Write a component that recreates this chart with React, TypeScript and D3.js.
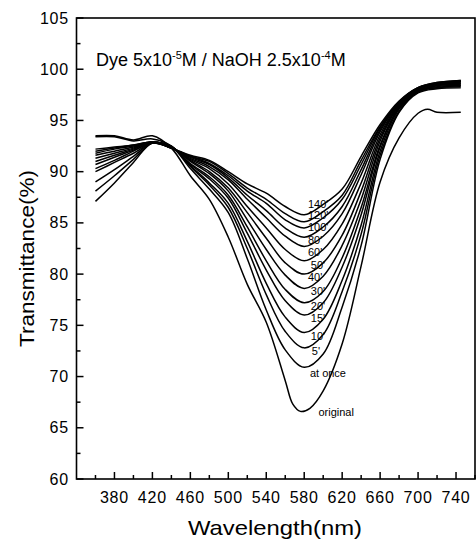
import React from 'react';
import * as d3 from 'd3';

const wavelengths = [360, 380, 400, 420, 440, 460, 480, 500, 520, 540, 560, 580, 600, 620, 640, 660, 680, 700, 720, 745];
const originalWavelengths = [360, 380, 400, 420, 440, 460, 480, 500, 520, 540, 560, 568, 576, 586, 600, 620, 640, 660, 680, 700, 710, 720, 745];

const original = [93.5, 93.5, 93.1, 93.5, 92.3, 89.6, 87.3, 83.6, 79.0, 75.3, 69.6, 67.3, 66.6, 66.9, 68.6, 73.2, 80.8, 89.0, 93.3, 95.7, 96.1, 95.8, 95.8];
const atOnce = [93.4, 93.4, 93.0, 93.2, 92.5, 90.3, 88.3, 86.0, 81.5, 76.5, 72.6, 70.9, 72.2, 76.8, 82.8, 91.2, 95.8, 97.7, 98.1, 98.2];
const min5 = [92.2, 92.4, 92.6, 92.9, 92.5, 90.5, 88.7, 86.5, 82.5, 78.0, 74.4, 72.8, 74.1, 78.3, 83.9, 91.6, 95.9, 97.8, 98.2, 98.3];
const min10 = [92.0, 92.3, 92.6, 92.9, 92.5, 90.6, 88.9, 86.9, 83.2, 79.1, 75.8, 74.3, 75.6, 79.4, 84.8, 92.0, 96.1, 97.8, 98.2, 98.4];
const min15 = [91.8, 92.2, 92.5, 92.9, 92.4, 90.7, 89.3, 87.4, 84.0, 80.4, 77.4, 76.0, 77.2, 80.7, 85.8, 92.4, 96.2, 97.9, 98.3, 98.4];
const min20 = [91.6, 92.0, 92.4, 92.9, 92.4, 90.8, 89.5, 87.7, 84.6, 81.3, 78.5, 77.2, 78.3, 81.6, 86.5, 92.6, 96.3, 97.9, 98.4, 98.5];
const min30 = [91.3, 91.8, 92.3, 92.9, 92.4, 91.0, 89.8, 88.1, 85.3, 82.4, 79.9, 78.6, 79.8, 82.8, 87.3, 93.0, 96.4, 97.9, 98.4, 98.6];
const min40 = [91.0, 91.6, 92.2, 92.9, 92.4, 91.1, 90.0, 88.4, 86.0, 83.5, 81.1, 80.0, 81.1, 83.8, 88.1, 93.3, 96.5, 98.0, 98.5, 98.6];
const min50 = [90.7, 91.4, 92.1, 92.8, 92.4, 91.2, 90.3, 88.8, 86.6, 84.5, 82.4, 81.3, 82.4, 84.9, 88.9, 93.6, 96.6, 98.1, 98.5, 98.7];
const min60 = [90.3, 91.1, 92.0, 92.8, 92.3, 91.3, 90.5, 89.2, 87.3, 85.5, 83.7, 82.7, 83.7, 85.9, 89.7, 93.9, 96.7, 98.1, 98.6, 98.8];
const min80 = [90.0, 90.9, 91.8, 92.8, 92.3, 91.4, 90.7, 89.4, 87.7, 86.2, 84.5, 83.6, 84.6, 86.6, 90.2, 94.1, 96.7, 98.1, 98.6, 98.8];
const min100 = [89.0, 90.2, 91.5, 92.8, 92.3, 91.5, 90.8, 89.6, 88.1, 86.9, 85.3, 84.5, 85.5, 87.3, 90.7, 94.3, 96.8, 98.2, 98.6, 98.8];
const min120 = [88.1, 89.6, 91.2, 92.8, 92.3, 91.5, 91.0, 89.8, 88.4, 87.3, 85.9, 85.1, 86.1, 87.7, 91.1, 94.4, 96.8, 98.2, 98.7, 98.9];
const min140 = [87.1, 88.9, 90.9, 92.8, 92.3, 91.6, 91.1, 90.0, 88.8, 87.9, 86.6, 85.8, 86.8, 88.3, 91.5, 94.6, 96.9, 98.2, 98.7, 98.9];

const seriesNames = ['original', 'at once', "5'", "10'", "15'", "20'", "30'", "40'", "50'", "60'", "80'", "100'", "120'", "140'"];
const seriesValues = [original, atOnce, min5, min10, min15, min20, min30, min40, min50, min60, min80, min100, min120, min140];

const xTickLabels = [380, 420, 460, 500, 540, 580, 620, 660, 700, 740];
const yTickLabels = [60, 65, 70, 75, 80, 85, 90, 95, 100, 105];

const FONT = '"Liberation Sans", Arial, Helvetica, sans-serif';

export default function App() {
  const W = 476;
  const H = 543;
  const left = 76.5, right = 475, top = 18, bottom = 479;
  const x = d3.scaleLinear().domain([340, 760]).range([left, right]);
  const y = d3.scaleLinear().domain([60, 105]).range([bottom, top]);

  const line = d3
    .line<[number, number]>()
    .x((d) => x(d[0]))
    .y((d) => y(d[1]))
    .curve(d3.curveCatmullRom.alpha(0.5));

  const series = seriesNames.map((name, i) => {
    const nm = name === 'original' ? originalWavelengths : wavelengths;
    const vals = seriesValues[i];
    const pts = nm.map((w, j) => [w, vals[j]] as [number, number]);
    return { name, pts, minV: d3.min(vals) as number };
  });

  const xMinor = d3.range(360, 761, 20).filter((v) => !xTickLabels.includes(v));
  const yMinor = d3.range(62.5, 105, 5);

  const labelPos = (name: string, minV: number) => {
    let lx = x(584);
    let dy = 7;
    if (name === "140'") dy = -7;
    else if (name === "120'") dy = -3;
    else if (name === "100'") dy = 3;
    else if (name === "80'") dy = 7;
    else if (name === "60'") dy = 10;
    else if (name === "50'") { dy = 8; lx = x(587); }
    else if (name === 'at once') { dy = 10; lx = x(586); }
    else if (name === 'original') { dy = 5; lx = x(595); }
    else if (name === "5'") lx = x(588);
    else if (["30'", "20'", "15'", "10'"].includes(name)) lx = x(587);
    return { lx, ly: y(minV) + dy };
  };

  return (
    <svg width={W} height={H} style={{ position: 'absolute', left: 0, top: 0, background: '#fff' }} fontFamily={FONT}>
      <rect x={0} y={0} width={W} height={H} fill="#fff" />
      <g fill="none" stroke="#000" strokeWidth={1.5} strokeLinejoin="round">
        {series.map((s) => (
          <path key={s.name} d={line(s.pts) || ''} />
        ))}
      </g>
      <g fontSize={11} fill="#000">
        {series.map((s) => {
          const p = labelPos(s.name, s.minV);
          return (
            <text key={s.name} x={p.lx} y={p.ly}>
              {s.name}
            </text>
          );
        })}
      </g>
      <rect x={left} y={top} width={right - left} height={bottom - top} fill="none" stroke="#000" strokeWidth={1.6} />
      <g stroke="#000" strokeWidth={1.5}>
        {xTickLabels.map((v) => (
          <line key={'xt' + v} x1={x(v)} x2={x(v)} y1={bottom} y2={bottom - 7} />
        ))}
        {xMinor.map((v) => (
          <line key={'xm' + v} x1={x(v)} x2={x(v)} y1={bottom} y2={bottom - 4} />
        ))}
        {yTickLabels.map((v) => (
          <line key={'yt' + v} x1={left} x2={left + 7} y1={y(v)} y2={y(v)} />
        ))}
        {yMinor.map((v) => (
          <line key={'ym' + v} x1={left} x2={left + 4} y1={y(v)} y2={y(v)} />
        ))}
      </g>
      <g fontSize={16} fill="#000" letterSpacing={0.8}>
        {xTickLabels.map((v) => (
          <text key={'xl' + v} x={x(v)} y={502.5} textAnchor="middle">
            {v}
          </text>
        ))}
        {yTickLabels.map((v) => (
          <text key={'yl' + v} x={69} y={y(v)} textAnchor="end" dominantBaseline="central">
            {v}
          </text>
        ))}
      </g>
      <text x={275} y={535} textAnchor="middle" fontSize={21} fill="#000" textLength={174} lengthAdjust="spacingAndGlyphs">
        Wavelength(nm)
      </text>
      <text
        transform={`translate(34, 258.5) rotate(-90)`}
        textAnchor="middle"
        fontSize={21}
        fill="#000"
        textLength={177}
        lengthAdjust="spacingAndGlyphs"
      >
        Transmittance(%)
      </text>
      <text x={96} y={66} fontSize={18} fill="#000">
        Dye 5x10
        <tspan dy={-7} fontSize={11}>-5</tspan>
        <tspan dy={7}>M / NaOH 2.5x10</tspan>
        <tspan dy={-7} fontSize={11}>-4</tspan>
        <tspan dy={7}>M</tspan>
      </text>
    </svg>
  );
}
